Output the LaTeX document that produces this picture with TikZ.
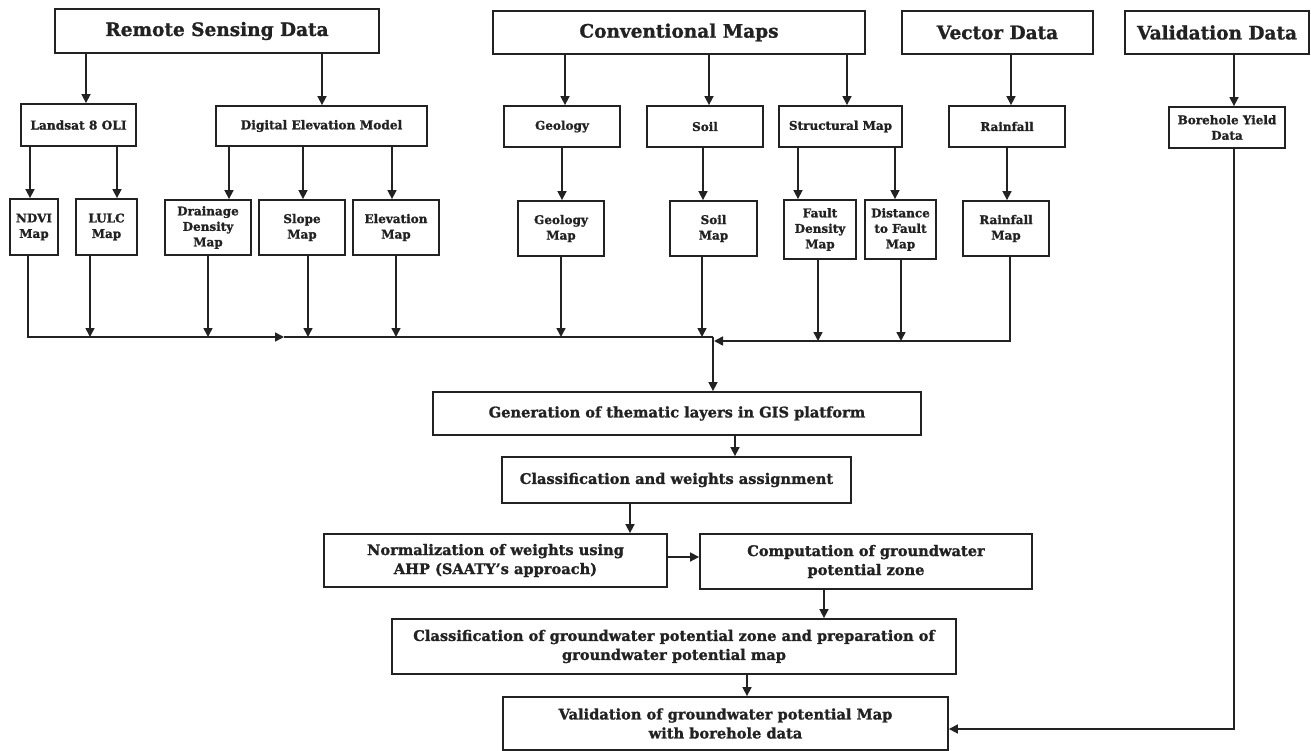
\documentclass[tikz,border=0pt]{standalone}
\usepackage{fontspec}
\setmainfont{DejaVu Serif}[BoldFeatures={FakeBold=1.3}]
\usetikzlibrary{arrows.meta}
\definecolor{ink}{HTML}{222222}
\begin{document}
\begin{tikzpicture}[x=1pt,y=-1pt,
  box/.style={draw=ink, line width=1.8pt, inner sep=1pt, align=center, text=ink},
  hdr/.style={box, font=\fontsize{18.5}{22}\selectfont\bfseries},
  sml/.style={box, font=\fontsize{12}{15.5}\selectfont\bfseries},
  low/.style={box, font=\fontsize{14.6}{19}\selectfont\bfseries},
  con/.style={draw=ink, line width=1.6pt},
  arr/.style={con, -{Triangle[length=9pt,width=9pt]}},
]
\useasboundingbox (0,0) rectangle (1311,751);
% headers
\node[hdr, minimum width=324pt, minimum height=44pt] (rsd) at (217,31) {Remote Sensing Data};
\node[hdr, minimum width=372pt, minimum height=43pt] (cm) at (679,32.5) {Conventional Maps};
\node[hdr, minimum width=191pt, minimum height=43pt] (vd) at (997.5,32.5) {Vector Data};
\node[hdr, minimum width=184pt, minimum height=43pt] (vald) at (1217,32.5) {Validation Data};
% second row
\node[sml, font=\fontsize{12.2}{15}\selectfont\bfseries, minimum width=115pt, minimum height=42pt] (landsat) at (78.5,125) {Landsat 8 OLI};
\node[sml, font=\fontsize{12.2}{15}\selectfont\bfseries, minimum width=211pt, minimum height=40pt] (dem) at (321.5,126) {Digital Elevation Model};
\node[sml, minimum width=116pt, minimum height=41pt] (geo) at (562,126.5) {Geology};
\node[sml, minimum width=116pt, minimum height=41pt] (soil) at (705,126.5) {Soil};
\node[sml, minimum width=123pt, minimum height=41pt] (struct) at (840.5,126.5) {Structural Map};
\node[sml, minimum width=116pt, minimum height=41pt] (rain) at (1007,126.5) {Rainfall};
\node[sml, minimum width=116pt, minimum height=41pt] (bore) at (1227,127.5) {Borehole Yield\\Data};
% third row
\node[sml, minimum width=48pt, minimum height=56pt] (ndvi) at (34,227) {NDVI\\Map};
\node[sml, minimum width=61pt, minimum height=56pt] (lulc) at (106.5,227) {LULC\\Map};
\node[sml, minimum width=86pt, minimum height=55pt] (drain) at (208,227.5) {Drainage\\Density\\Map};
\node[sml, minimum width=86pt, minimum height=55pt] (slope) at (302,227.5) {Slope\\Map};
\node[sml, minimum width=86pt, minimum height=55pt] (elev) at (396,227.5) {Elevation\\Map};
\node[sml, minimum width=86pt, minimum height=55pt] (geomap) at (561,228.5) {Geology\\Map};
\node[sml, minimum width=87pt, minimum height=55pt] (soilmap) at (713.5,228.5) {Soil\\Map};
\node[sml, minimum width=72pt, minimum height=59pt] (fault) at (820,229.5) {Fault\\Density\\Map};
\node[sml, minimum width=71pt, minimum height=59pt] (dist) at (900.5,229.5) {Distance\\to Fault\\Map};
\node[sml, minimum width=86pt, minimum height=55pt] (rainmap) at (1006,228.5) {Rainfall\\Map};
% lower process
\node[low, minimum width=488pt, minimum height=43pt] (gen) at (677,413.5) {Generation of thematic layers in GIS platform};
\node[low, minimum width=349pt, minimum height=46pt] (cls) at (676.5,480) {Classification and weights assignment};
\node[low, minimum width=343pt, minimum height=53pt] (norm) at (495.5,560.5) {Normalization of weights using\\AHP (SAATY’s approach)};
\node[low, minimum width=332pt, minimum height=55pt] (comp) at (866,561.5) {Computation of groundwater\\potential zone};
\node[low, minimum width=564pt, minimum height=55pt] (cls2) at (674,646.5) {Classification of groundwater potential zone and preparation of\\groundwater potential map};
\node[low, minimum width=445pt, minimum height=53pt] (valid) at (725.5,723.5) {Validation of groundwater potential Map\\with borehole data};
% connectors top
\draw[arr] (rsd.south -| 86,0) -- (landsat.north -| 86,0);
\draw[arr] (rsd.south -| 322,0) -- (dem.north -| 322,0);
\draw[arr] (cm.south -| 565,0) -- (geo.north -| 565,0);
\draw[arr] (cm.south -| 709,0) -- (soil.north -| 709,0);
\draw[arr] (cm.south -| 847,0) -- (struct.north -| 847,0);
\draw[arr] (vd.south -| 1011,0) -- (rain.north -| 1011,0);
\draw[arr] (vald.south -| 1234,0) -- (bore.north -| 1234,0);
\draw[arr] (landsat.south -| 30,0) -- (ndvi.north -| 30,0);
\draw[arr] (landsat.south -| 117,0) -- (lulc.north -| 117,0);
\draw[arr] (dem.south -| 229,0) -- (drain.north -| 229,0);
\draw[arr] (dem.south -| 303,0) -- (slope.north -| 303,0);
\draw[arr] (dem.south -| 392,0) -- (elev.north -| 392,0);
\draw[arr] (geo.south -| 562,0) -- (geomap.north -| 562,0);
\draw[arr] (soil.south -| 703,0) -- (soilmap.north -| 703,0);
\draw[arr] (struct.south -| 798,0) -- (fault.north -| 798,0);
\draw[arr] (struct.south -| 895,0) -- (dist.north -| 895,0);
\draw[arr] (rain.south -| 1007,0) -- (rainmap.north -| 1007,0);
% buses
\coordinate (bl) at (28,337);
\coordinate (bm) at (284,337);
\coordinate (bj) at (713,337);
\coordinate (br) at (1010,341);
\coordinate (bj2) at (714,341);
\draw[arr] (ndvi.south -| bl) -- (bl) -- (bm);
\draw[con] (bm) -- (bj);
\draw[arr] (lulc.south -| 90,0) -- (bl -| 90,0);
\draw[arr] (drain.south -| 208,0) -- (bl -| 208,0);
\draw[arr] (slope.south -| 308,0) -- (bl -| 308,0);
\draw[arr] (elev.south -| 396,0) -- (bl -| 396,0);
\draw[arr] (geomap.south -| 561,0) -- (bl -| 561,0);
\draw[arr] (soilmap.south -| 702,0) -- (bl -| 702,0);
\draw[arr] (rainmap.south -| br) -- (br) -- (bj2);
\draw[arr] (fault.south -| 818,0) -- (br -| 818,0);
\draw[arr] (dist.south -| 901,0) -- (br -| 901,0);
\draw[arr] (bj) -- (gen.north -| bj);
% lower flow
\draw[arr] (gen.south -| 735,0) -- (cls.north -| 735,0);
\draw[arr] (cls.south -| 630,0) -- (norm.north -| 630,0);
\draw[arr] (norm.east |- 0,557) -- (comp.west |- 0,557);
\draw[arr] (comp.south -| 824,0) -- (cls2.north -| 824,0);
\draw[arr] (cls2.south -| 747,0) -- (valid.north -| 747,0);
\coordinate (bc) at (1234,729);
\draw[arr] (bore.south -| bc) -- (bc) -- (valid.east |- bc);
\end{tikzpicture}
\end{document}
